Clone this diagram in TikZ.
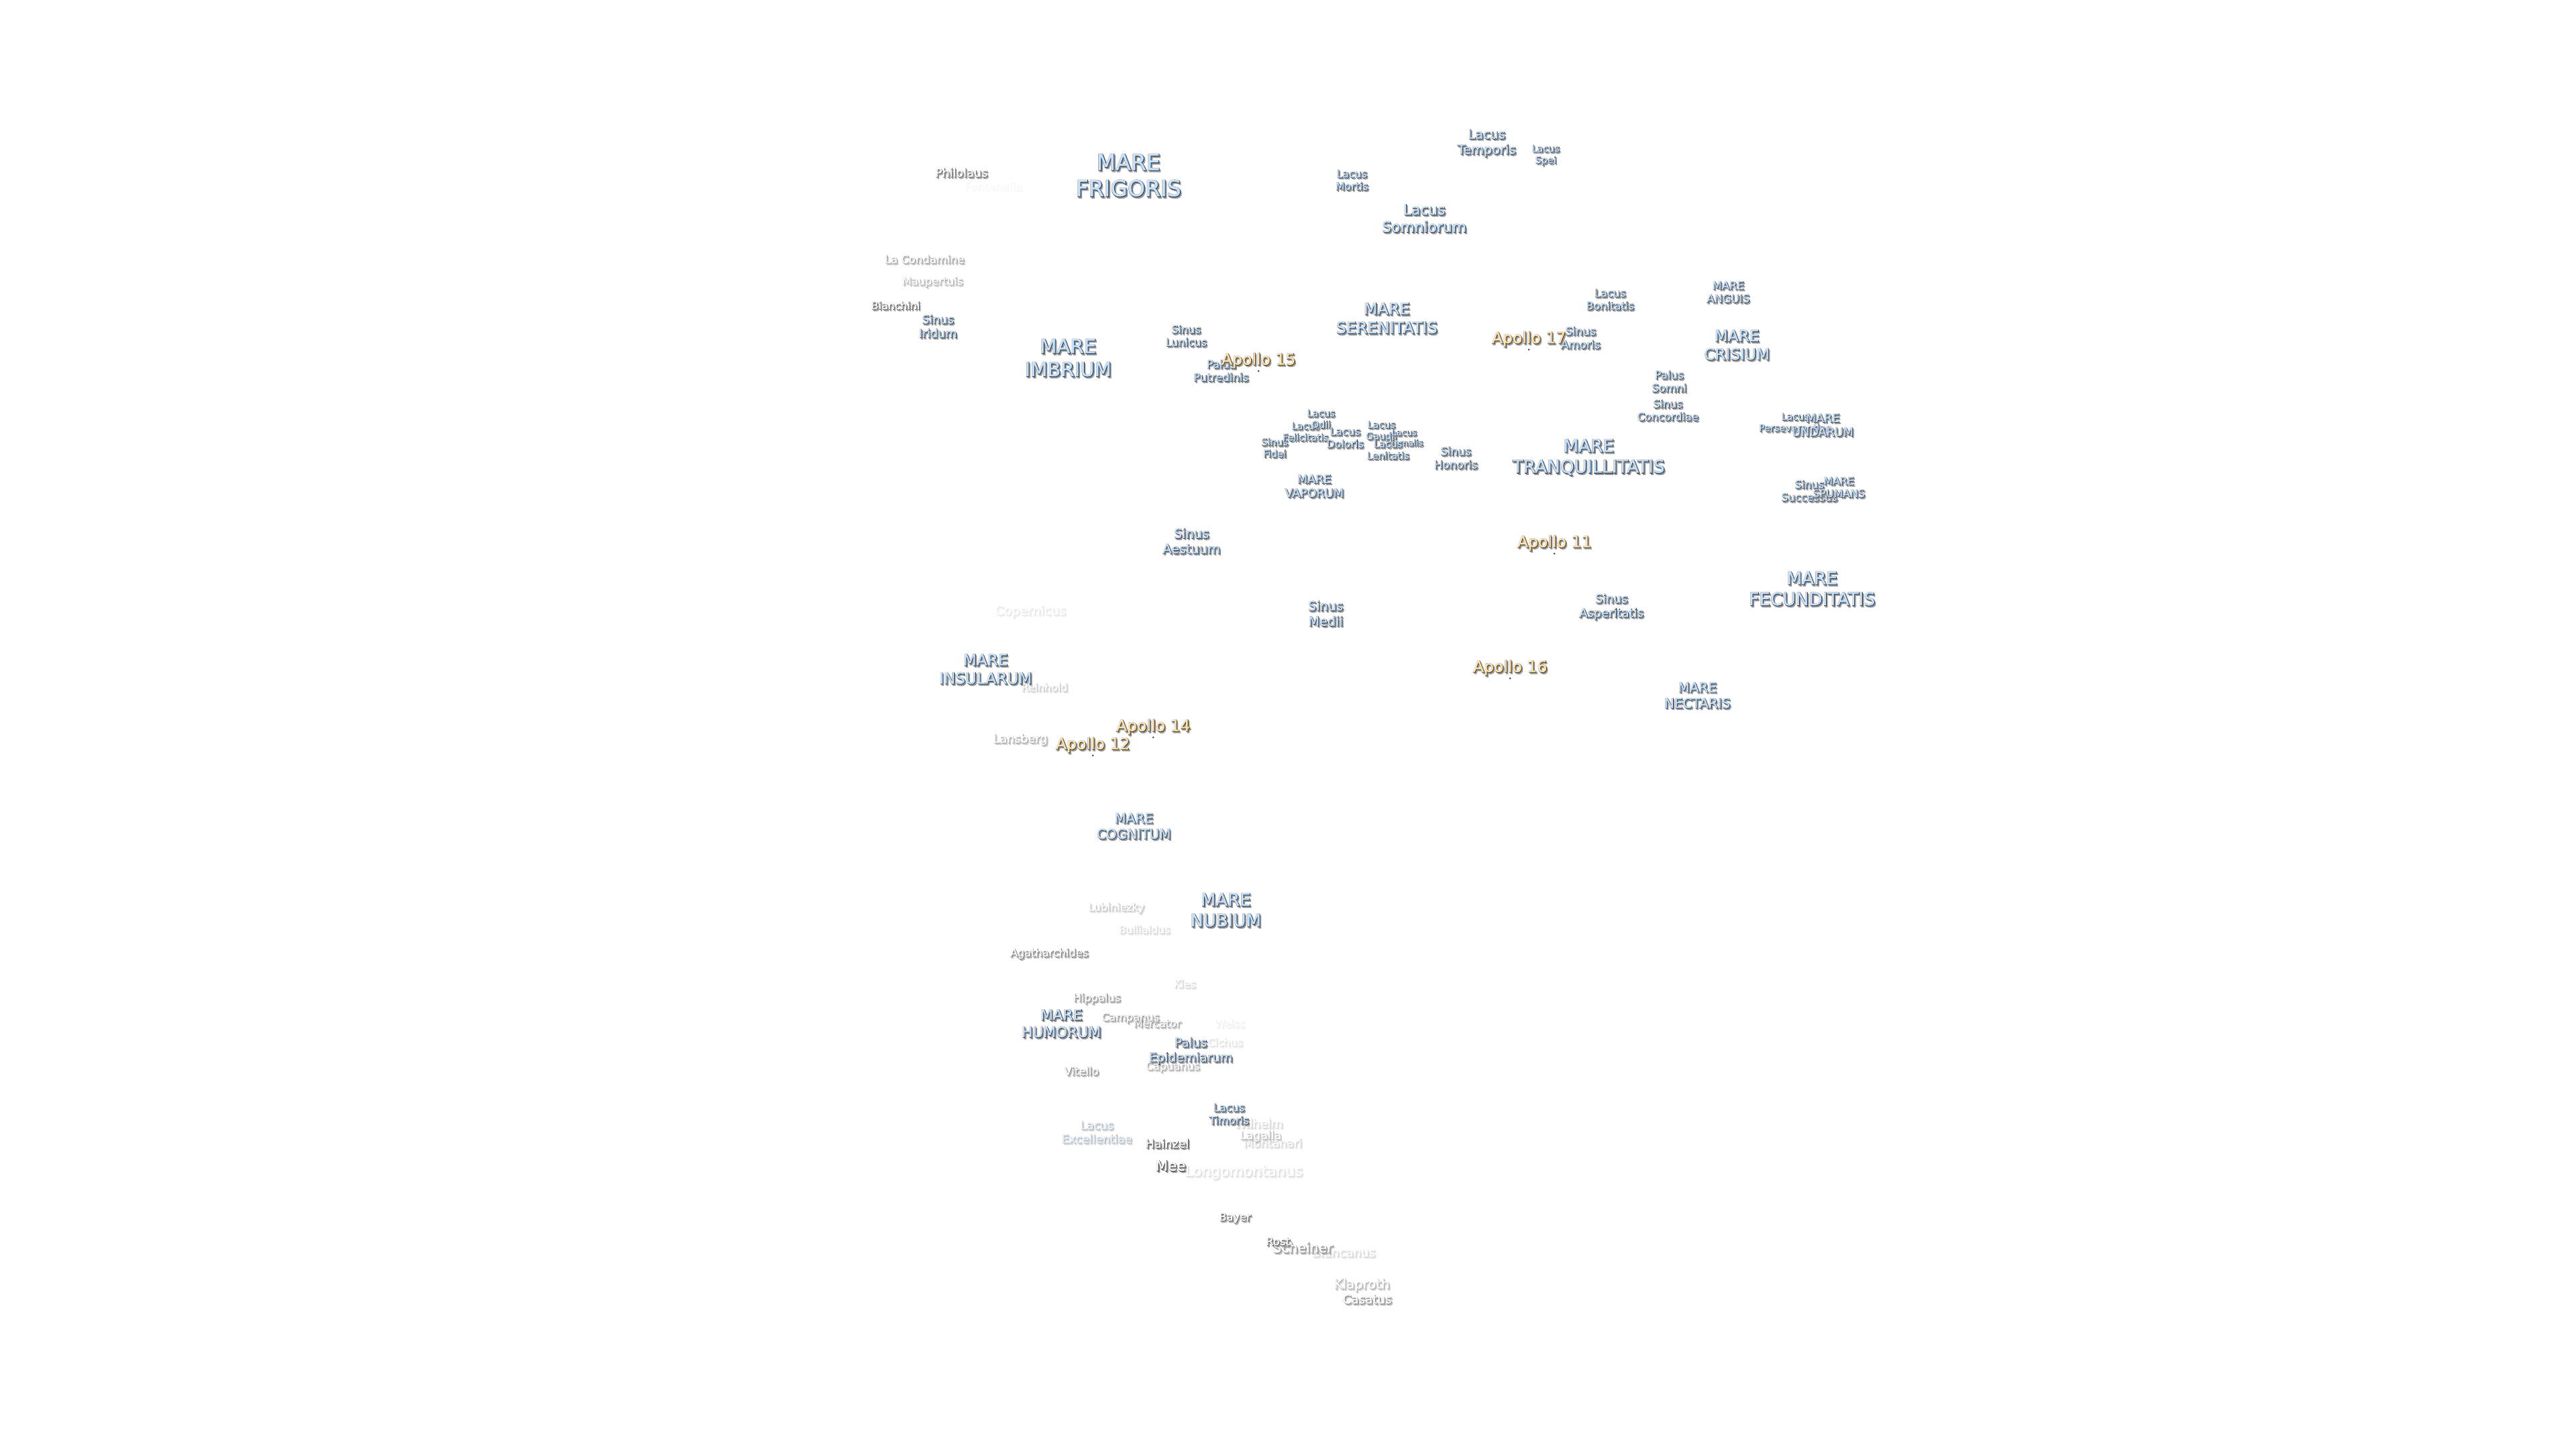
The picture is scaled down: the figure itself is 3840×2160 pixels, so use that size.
\documentclass[tikz,border=0pt]{standalone}
\usepackage{fontspec}
\setmainfont{DejaVu Sans}
\usetikzlibrary{positioning}

\definecolor{marefill}{HTML}{C4E2FF}
\definecolor{apollofill}{HTML}{FFE4B0}
\definecolor{craterfill}{HTML}{FFFFFF}

\newcommand{\moonfont}[1]{\fontsize{#1}{\dimexpr #1pt*1180/1000\relax}\selectfont\addfontfeature{FakeBold=1.5}}
\newcommand{\moonbold}[1]{\fontsize{#1}{\dimexpr #1pt*1180/1000\relax}\selectfont\addfontfeature{FakeBold=5}}
\newcommand{\moonname}[7]{%
    \begin{scope}[transparency group, opacity=#6]
        \node[moontext, moonglow, font=\moonbold{#4}] (#1-g) at (#2,#3) {#7};
        \node[moontext, moonrim, font=\moonbold{#4}] (#1-r) at (#2,#3) {#7};
        \node[moontext, text=#5, font=\moonfont{#4}] (#1) at (#2,#3) {#7};
    \end{scope}}

\begin{document}
\begin{tikzpicture}[
        x=0.01cm,
        y=-0.01cm,
        moontext/.style={inner sep=0pt, align=center},
        moonglow/.style={text=black!40, xshift=0.022cm, yshift=-0.026cm},
        moonrim/.style={text=black!78, xshift=0.005cm, yshift=-0.006cm},
        sitedot/.style={circle, fill=black!70, minimum size=0.03cm, inner sep=0pt},
    ]
    \useasboundingbox (0,0) rectangle (3840,2160);

    % Craters, fading out with their opacity
    \foreach \name / \x / \y / \fs / \op / \txt in {
        fontenelle/1480/277/4.7/0.05/Fontenelle,
        copernicus/1536/911/5.4/0.15/Copernicus,
        reinhold/1557/1024/4.5/0.3/Reinhold,
        weiss/1833/1525/4.5/0.1/Weiss,
        cichus/1826/1553/4.5/0.18/Cichus,
        kies/1766/1466/4.5/0.24/Kies,
        bullialdus/1706/1385/4.5/0.24/Bullialdus,
        lubiniezky/1664/1353/4.5/0.35/Lubiniezky,
        wilhelm/1876/1674/5.1/0.24/Wilhelm,
        montanari/1897/1703/4.9/0.26/Montanari,
        longomontanus/1854/1747/6.2/0.2/Longomontanus,
        blancanus/2003/1866/5.2/0.24/Blancanus,
        lagalla/1879/1693/4.9/0.4/Lagalla,
        klaproth/2030/1915/5.6/0.45/Klaproth,
        maupertuis/1390/420/4.6/0.45/Maupertuis,
        lacondamine/1378/386/4.7/0.55/La Condamine,
        lansberg/1521/1102/5/0.5/Lansberg,
        capuanus/1748/1590/4.6/0.5/Capuanus,
        campanus/1685/1517/4.6/0.6/Campanus,
        mercator/1725/1525/4.5/0.55/Mercator,
        vitello/1612/1596/4.7/0.65/Vitello,
        hippalus/1635/1488/4.6/0.65/Hippalus,
        casatus/2038/1936/5.2/0.65/Casatus,
        scheiner/1942/1859/5.8/0.65/Scheiner,
        agatharchides/1564/1421/4.6/0.75/Agatharchides,
        philolaus/1433/257/5/0.85/Philolaus,
        bianchini/1335/455/4.5/0.9/Bianchini,
        bayer/1841/1815/4.6/0.85/Bayer,
        rost/1905/1850/4.7/0.9/Rost,
        hainzel/1740/1704/5/0.95/Hainzel,
        mee/1745/1737/6.1/1/Mee}
        \moonname{\name}{\x}{\y}{\fs}{craterfill}{\op}{\txt};

    % Faded lake in the south
    \moonname{excellentiae}{1635}{1687}{4.9}{marefill}{0.4}{Lacus\\Excellentiae}

    % Seas, lakes, bays and marshes
    \foreach \name / \x / \y / \fs / \txt in {
        frigoris/1682/261/9.4/{MARE\\FRIGORIS},
        imbrium/1592/533/8.3/{MARE\\IMBRIUM},
        serenitatis/2067/474/6.8/{MARE\\SERENITATIS},
        tranquillitatis/2368/681/7.5/{MARE\\TRANQUILLITATIS},
        crisium/2589/514/6.6/{MARE\\CRISIUM},
        anguis/2576/435/4.7/{MARE\\ANGUIS},
        vaporum/1959/724/5/{MARE\\VAPORUM},
        fecunditatis/2701/877/7.5/{MARE\\FECUNDITATIS},
        nectaris/2530/1036/5.7/{MARE\\NECTARIS},
        insularum/1469/997/6.6/{MARE\\INSULARUM},
        cognitum/1690/1231/5.7/{MARE\\COGNITUM},
        nubium/1827/1356/7.4/{MARE\\NUBIUM},
        humorum/1582/1525/6.2/{MARE\\HUMORUM},
        temporis/2216/213/5.5/{Lacus\\Temporis},
        spei/2304/231/4.1/{Lacus\\Spei},
        mortis/2015/268/4.5/{Lacus\\Mortis},
        somniorum/2123/325/6.2/{Lacus\\Somniorum},
        bonitatis/2400/446/4.6/{Lacus\\Bonitatis},
        lunicus/1768/500/4.6/{Sinus\\Lunicus},
        iridum/1398/486/5/{Sinus\\Iridum},
        putredinis/1820/552/4.7/{Palus\\Putredinis},
        amoris/2356/503/4.8/{Sinus\\Amoris},
        somni/2488/568/4.7/{Palus\\Somni},
        concordiae/2486/611/4.6/{Sinus\\Concordiae},
        aestuum/1776/806/5.5/{Sinus\\Aestuum},
        medii/1976/914/5.5/{Sinus\\Medii},
        asperitatis/2402/904/5.1/{Sinus\\Asperitatis},
        epidemiarum/1775/1566/5.3/{Palus\\Epidemiarum},
        timoris/1832/1660/4.6/{Lacus\\Timoris},
        honoris/2170/682/4.8/{Sinus\\Honoris},
        fidei/1900/667/4.2/{Sinus\\Fidei},
        felicitatis/1946/643/4.1/{Lacus\\Felicitatis},
        odii/1969/624/4.1/{Lacus\\Odii},
        doloris/2005/652/4.5/{Lacus\\Doloris},
        gaudii/2059/641/4.1/{Lacus\\Gaudii},
        hiemalis/2093/652/3.7/{Lacus\\Hiemalis},
        lenitatis/2069/670/4.2/{Lacus\\Lenitatis},
        perseverantiae/2676/629/4.1/{Lacus\\Perseverantiae},
        undarum/2717/633/5/{MARE\\UNDARUM},
        successus/2697/731/4.6/{Sinus\\Successus},
        spumans/2741/726/4.5/{MARE\\SPUMANS}}
        \moonname{\name}{\x}{\y}{\fs}{marefill}{1}{\txt};

    % Landing sites, with their marks
    \foreach \name / \x / \y in {
        15/1876/537, 17/2279/505, 11/2317/809,
        16/2251/995, 14/1719/1083, 12/1629/1110} {
        \moonname{A-\name}{\x}{\y}{6.7}{apollofill}{1}{Apollo \name}
        \node[sitedot] (S-\name) at (\x,\y+16) {};
    }
\end{tikzpicture}
\end{document}
